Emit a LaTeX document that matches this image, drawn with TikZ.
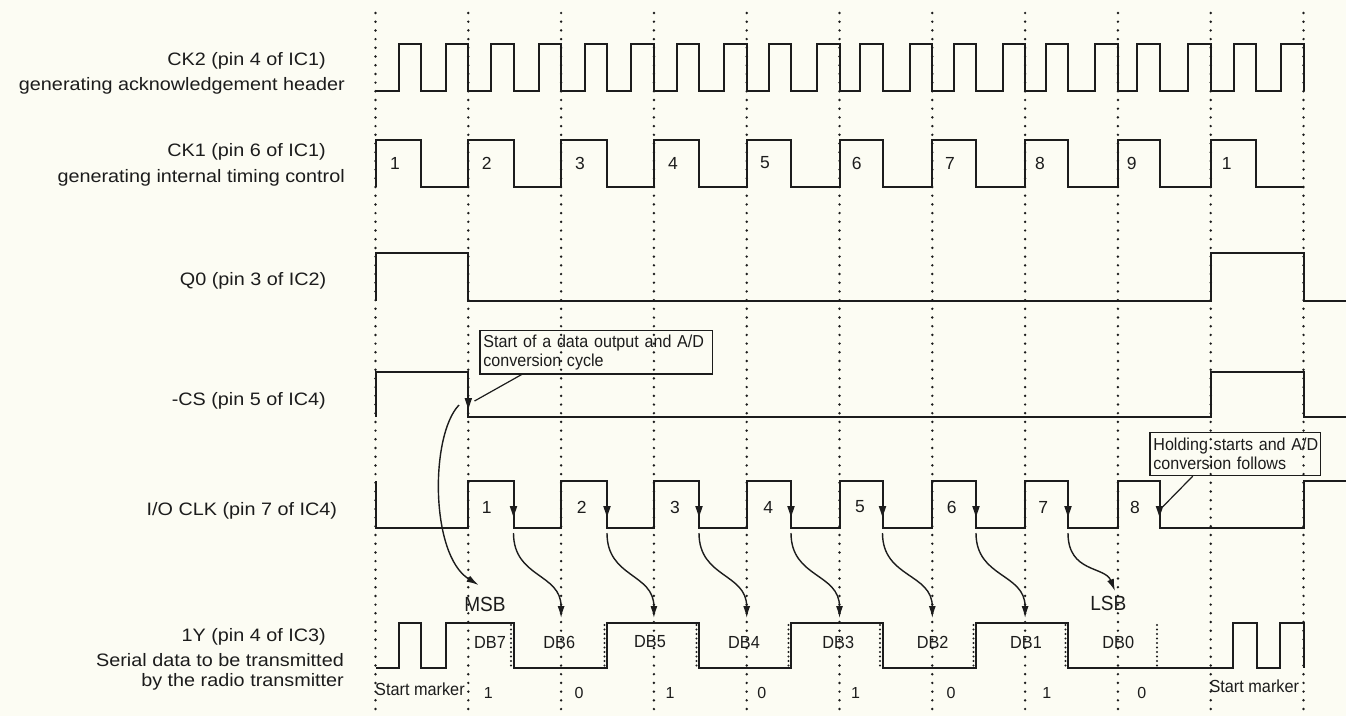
\documentclass[tikz,border=0pt]{standalone}
\usepackage{fontspec}
\setmainfont{Liberation Sans}
\newfontfamily\labfont[FakeStretch=1.1]{Liberation Sans}
\newfontfamily\cndfont[FakeStretch=0.93]{Liberation Sans}
\usetikzlibrary{arrows.meta}
\definecolor{paper}{RGB}{252,252,243}
\definecolor{ink}{RGB}{28,28,28}
\begin{document}
\begin{tikzpicture}[x=1pt,y=-1pt,
  wave/.style={ink, line width=2pt},
  gridline/.style={ink, line width=2.7pt, dash pattern=on 0pt off 8.7pt, line cap=round},
  bitdots/.style={ink, line width=2.2pt, dash pattern=on 0pt off 4.5pt, line cap=round},
  lab/.style={anchor=base east, inner sep=0pt, font=\labfont\fontsize{18}{21}\selectfont, text=ink},
  num/.style={inner sep=0pt, font=\fontsize{17.5}{20}\selectfont, text=ink},
  bitval/.style={inner sep=0pt, font=\fontsize{16}{19}\selectfont, text=ink},
  small/.style={inner sep=0pt, font=\cndfont\fontsize{17.5}{20}\selectfont, text=ink},
  big/.style={inner sep=0pt, font=\cndfont\fontsize{20.5}{24}\selectfont, text=ink},
  note/.style={draw=ink, line width=1.2pt, anchor=north west, align=left, inner xsep=3.5pt, inner ysep=2pt, minimum height=43.3pt, font=\cndfont\fontsize{17.3}{18.8}\selectfont, text=ink},
  pointer/.style={ink, line width=1.2pt},
  flow/.style={ink, line width=1.4pt, -{Latex[length=12pt,width=7pt]}},
  downtri/.pic={\fill[ink] (-3.8,-11) -- (3.8,-11) -- (0,0) -- cycle;}
]
\fill[paper] (0,0) rectangle (1346,716);
\useasboundingbox (0,0) rectangle (1346,716);

% dotted time grid
\foreach \gx in {375.5,468.3,561.1,653.9,746.7,839.5,932.3,1025.1,1117.9,1210.7,1303.5}
  \draw[gridline] (\gx,13) -- (\gx,716);

% CK2
\draw[wave] (375.5,91)
  \foreach \f/\g in {421/468.3,513.5/561.1,607/653.9,699/746.7,791/839.5,882.5/932.3,976/1025.1,1068/1117.9,1159.5/1210.7,1256/1303.5}
  { -- (\f-22.5,91) -- (\f-22.5,44) -- (\f,44) -- (\f,91) -- (\g-22.5,91) -- (\g-22.5,44) -- (\g,44) -- (\g,91) };

% CK1
\draw[wave] (375.5,187)
  \foreach \g/\f/\n in {375.5/421/468.3,468.3/513.5/561.1,561.1/607/653.9,653.9/699/746.7,746.7/791/839.5,839.5/882.5/932.3,932.3/976/1025.1,1025.1/1068/1117.9,1117.9/1159.5/1210.7,1210.7/1256/1303.5}
  { -- (\g,140) -- (\f,140) -- (\f,187) -- (\n,187) };
\foreach \x/\t [count=\i] in {395/1,486.7/2,580/3,673/4,765/5,856.7/6,950/7,1040/8,1131.7/9,1226.7/1}
  \node[num] (ck\i) at (\x,163) {\t};

% Q0
\draw[wave] (375.5,301) -- (375.5,253) -- (468.3,253) -- (468.3,301) -- (1210.7,301)
  -- (1210.7,253) -- (1303.5,253) -- (1303.5,301) -- (1346,301);

% -CS
\draw[wave] (375.5,417) -- (375.5,372) -- (468.3,372) -- (468.3,417) -- (1210.7,417)
  -- (1210.7,372) -- (1303.5,372) -- (1303.5,417) -- (1346,417);
\pic at (468.3,409) {downtri};

% I/O CLK
\draw[wave] (375.5,481) -- (375.5,528)
  \foreach \g/\f in {468.3/513.5,561.1/607,653.9/699,746.7/791,839.5/882.5,932.3/976,1025.1/1068,1117.9/1159.5}
  { -- (\g,528) -- (\g,481) -- (\f,481) -- (\f,528) }
  -- (1303.5,528) -- (1303.5,481) -- (1346,481);
\foreach \f in {513.5,607,699,791,882.5,976,1068,1159.5}
  \pic at (\f,517) {downtri};
\foreach \x [count=\i] in {486.7,581.7,675,768.3,860,951.7,1043.3,1135}
  \node[num] (io\i) at (\x,507) {\i};

% 1Y
\draw[wave] (375.5,668) -- (398.5,668) -- (398.5,623) -- (421,623) -- (421,668)
  -- (445.8,668) -- (445.8,623) -- (513.5,623) -- (513.5,668) -- (607,668) -- (607,623)
  -- (699,623) -- (699,668) -- (791,668) -- (791,623) -- (882.5,623) -- (882.5,668)
  -- (976,668) -- (976,623) -- (1068,623) -- (1068,668) -- (1233.3,668) -- (1233.3,623)
  -- (1256.5,623) -- (1256.5,668) -- (1280,668) -- (1280,623) -- (1303.5,623) -- (1303.5,668);
\foreach \bx in {513.5,607,699,791,882.5,976,1068,1159.5}
  \draw[bitdots] (\bx-2.5,625) -- (\bx-2.5,668);
\foreach \x/\t in {490/7,559.3/6,650/5,744/4,838.3/3,932.7/2,1026/1,1118.3/0}
  \node[small] (db\t) at (\x,642) {DB\t};
\foreach \x/\t [count=\i] in {488.3/1,579/0,670/1,761.7/0,855.5/1,951/0,1046.7/1,1141.7/0}
  \node[bitval] (bv\i) at (\x,692.5) {\t};
\node[small, anchor=west] (sm1) at (375,689.3) {Start marker};
\node[small, anchor=west] (sm2) at (1209.3,686.7) {Start marker};
\node[big] (msb) at (485,604) {MSB};
\node[big] (lsb) at (1108.3,603.3) {LSB};

% signal names
\node[lab] (l1a) at (326,65) {CK2 (pin 4 of IC1)};
\node[lab] (l1b) at (345,90.7) {generating acknowledgement header};
\node[lab] (l2a) at (326,156.7) {CK1 (pin 6 of IC1)};
\node[lab] (l2b) at (345,182.7) {generating internal timing control};
\node[lab] (l3) at (326.5,285) {Q0 (pin 3 of IC2)};
\node[lab] (l4) at (326,405) {-CS (pin 5 of IC4)};
\node[lab] (l5) at (337.3,515) {I/O CLK (pin 7 of IC4)};
\node[lab] (l6a) at (326,641.7) {1Y (pin 4 of IC3)};
\node[lab] (l6b) at (344,666.7) {Serial data to be transmitted};
\node[lab] (l6c) at (344,686.7) {by the radio transmitter};

% callouts
\node[note, text width=225.5pt] (note1) at (479.3,330) {\mbox{Start of a data output and A/D}\\\mbox{conversion cycle}};
\path (note1.south west) ++(42.4,0) coordinate (n1p);
\coordinate (csedge) at (474.5,401);
\draw[pointer] (n1p) -- (csedge);

\node[note, text width=163.7pt] (note2) at (1149.3,431.7) {\mbox{Holding starts and A/D}\\\mbox{conversion follows}};
\path (note2.south west) ++(43.4,0) coordinate (n2p);
\coordinate (io8edge) at (1162.5,507);
\draw[pointer] (n2p) -- (io8edge);

% data flow arrows
\coordinate (csfall) at (459,405);
\coordinate (msbin) at (478.5,585);
\draw[flow] (csfall) .. controls (430,435) and (430,555) .. (msbin);
\foreach \f/\t [count=\i] in {513.5/561.1,607/653.9,699/746.7,791/839.5,882.5/932.3,976/1025.1}{
  \coordinate (clk\i) at (\f,533);
  \coordinate (bit\i) at (\t,618);
  \draw[flow] (clk\i) .. controls +(0,45) and +(0,-45) .. (bit\i);
}
\coordinate (clk7) at (1068,533);
\coordinate (lsbin) at (1115,591);
\draw[flow] (clk7) .. controls +(0,40) and +(-10,-25) .. (lsbin);
\end{tikzpicture}
\end{document}
